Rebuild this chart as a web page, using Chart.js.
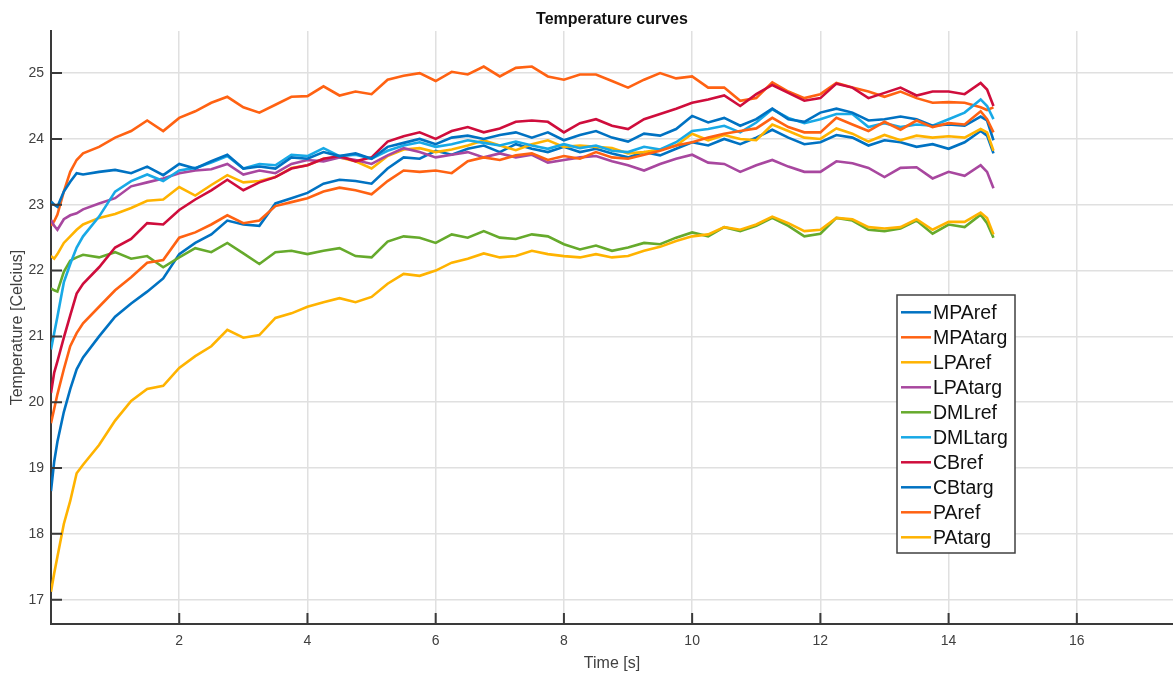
<!DOCTYPE html>
<html>
<head>
<meta charset="utf-8">
<title>Temperature curves</title>
<script src="https://cdn.jsdelivr.net/npm/chart.js@4.4.1/dist/chart.umd.min.js"></script>
<style>
  html, body { margin: 0; padding: 0; background: #fff; }
  canvas { display: block; }
</style>
</head>
<body>
<canvas id="tempChart" width="1173" height="676"></canvas>
<script>
// sample times shared by every probe (s)
const timeSec = [
  0, 0.05, 0.1, 0.2, 0.3, 0.4, 0.5, 0.75, 1, 1.25, 1.5, 1.75, 2,
  2.25, 2.5, 2.75, 3, 3.25, 3.5, 3.75, 4, 4.25, 4.5, 4.75, 5, 5.25,
  5.5, 5.75, 6, 6.25, 6.5, 6.75, 7, 7.25, 7.5, 7.75, 8, 8.25, 8.5,
  8.75, 9, 9.25, 9.5, 9.75, 10, 10.25, 10.5, 10.75, 11, 11.25, 11.5, 11.75,
  12, 12.25, 12.5, 12.75, 13, 13.25, 13.5, 13.75, 14, 14.25, 14.5, 14.6, 14.7
];

// temperatures in Celcius, one value per sample time
const mpaRef = [
  18.65, 19.1, 19.4, 19.85, 20.2, 20.5, 20.68, 21.0, 21.3, 21.5, 21.68, 21.88, 22.25,
  22.42, 22.55, 22.76, 22.7, 22.68, 23.02, 23.1, 23.18, 23.32, 23.38, 23.36, 23.32, 23.55,
  23.72, 23.7, 23.82, 23.76, 23.85, 23.9, 23.8, 23.92, 23.85, 23.8, 23.88, 23.8, 23.85,
  23.78, 23.72, 23.8, 23.75, 23.85, 23.95, 23.9, 24.0, 23.92, 24.02, 24.14, 24.02, 23.92,
  23.95, 24.06, 24.02, 23.9, 23.98, 23.95, 23.88, 23.92, 23.85, 23.95, 24.12, 24.05, 23.78
];
const mpaTarg = [
  22.68, 22.75, 22.85, 23.2, 23.5, 23.68, 23.78, 23.88, 24.02, 24.12, 24.28, 24.12, 24.32,
  24.42, 24.55, 24.64, 24.48, 24.4, 24.52, 24.64, 24.65, 24.8, 24.66, 24.72, 24.68, 24.9,
  24.96, 25.0, 24.88, 25.02, 24.98, 25.1, 24.95, 25.08, 25.1, 24.95, 24.9, 24.98, 24.98,
  24.88, 24.78, 24.9, 25.0, 24.92, 24.95, 24.78, 24.78, 24.58, 24.62, 24.86, 24.72, 24.62,
  24.68, 24.85, 24.78, 24.72, 24.64, 24.72, 24.62, 24.55, 24.56, 24.55, 24.48, 24.44, 24.48
];
const lpaRef = [
  22.22, 22.18, 22.25, 22.42, 22.52, 22.62, 22.7, 22.8, 22.86, 22.95, 23.06, 23.08, 23.27,
  23.14, 23.3, 23.45, 23.34, 23.36, 23.42, 23.56, 23.6, 23.7, 23.72, 23.66, 23.55, 23.74,
  23.84, 23.86, 23.8, 23.84, 23.9, 23.98, 23.9, 23.83, 23.92, 23.98, 23.88, 23.9, 23.88,
  23.86, 23.78, 23.8, 23.84, 23.9, 24.08, 23.98, 24.06, 24.0, 23.98, 24.22, 24.12, 24.02,
  24.0, 24.16, 24.08, 23.96, 24.06, 23.98, 24.05, 24.02, 24.04, 24.02, 24.15, 24.1, 23.82
];
const lpaTarg = [
  22.77, 22.68, 22.62, 22.78, 22.84, 22.87, 22.93, 23.02, 23.1, 23.28, 23.34, 23.4, 23.48,
  23.52, 23.54, 23.62, 23.46, 23.52, 23.48, 23.62, 23.68, 23.66, 23.72, 23.68, 23.62, 23.75,
  23.86, 23.8, 23.72, 23.76, 23.8, 23.72, 23.78, 23.72, 23.76, 23.64, 23.68, 23.72, 23.74,
  23.66, 23.6, 23.52, 23.62, 23.7, 23.76, 23.64, 23.62, 23.5, 23.6, 23.68, 23.58, 23.5,
  23.5, 23.66, 23.63, 23.56, 23.42, 23.56, 23.57, 23.4, 23.5, 23.44, 23.6, 23.5, 23.25
];
const dmlRef = [
  21.73, 21.7, 21.68, 21.98, 22.15, 22.2, 22.24, 22.2, 22.28, 22.18, 22.22, 22.05, 22.2,
  22.34, 22.28, 22.42, 22.26, 22.1, 22.28, 22.3, 22.25, 22.3, 22.34, 22.22, 22.2, 22.44,
  22.52, 22.5, 22.42, 22.55, 22.5, 22.6, 22.5, 22.48, 22.55, 22.52, 22.4, 22.32, 22.38,
  22.3, 22.35, 22.42, 22.4, 22.5, 22.58, 22.52, 22.66, 22.6, 22.68, 22.8, 22.68, 22.52,
  22.56, 22.8, 22.76, 22.62, 22.6, 22.64, 22.76, 22.56, 22.7, 22.66, 22.85, 22.72, 22.5
];
const dmlTarg = [
  20.8, 21.05, 21.3, 21.82, 22.1, 22.35, 22.52, 22.82, 23.2, 23.36, 23.46, 23.36, 23.52,
  23.56, 23.64, 23.74, 23.55, 23.62, 23.6, 23.76, 23.74, 23.86, 23.74, 23.76, 23.7, 23.82,
  23.9, 23.95, 23.88, 23.92, 23.98, 23.94, 23.9, 23.96, 23.9, 23.85, 23.92, 23.86, 23.9,
  23.82, 23.8, 23.88, 23.84, 23.95, 24.12, 24.15, 24.2, 24.1, 24.25, 24.45, 24.32, 24.24,
  24.3, 24.38, 24.38, 24.18, 24.24, 24.18, 24.22, 24.2, 24.3, 24.4, 24.6, 24.5, 24.3
];
const cbRef = [
  20.14, 20.45, 20.62, 20.98, 21.32, 21.65, 21.8, 22.05, 22.35, 22.48, 22.72, 22.7, 22.92,
  23.08, 23.22, 23.38, 23.22, 23.34, 23.42, 23.55, 23.6, 23.7, 23.74, 23.66, 23.72, 23.96,
  24.04, 24.1, 24.0, 24.12, 24.18, 24.1, 24.16, 24.26, 24.28, 24.26, 24.1, 24.24, 24.3,
  24.2, 24.15, 24.3, 24.38, 24.46, 24.55, 24.6, 24.66, 24.5, 24.68, 24.82, 24.7, 24.58,
  24.62, 24.84, 24.78, 24.62, 24.7, 24.78, 24.66, 24.72, 24.72, 24.68, 24.85, 24.75, 24.5
];
const cbTarg = [
  23.05, 23.0, 22.97, 23.2, 23.35, 23.48, 23.46, 23.5, 23.53, 23.48, 23.58, 23.45, 23.62,
  23.55, 23.66, 23.76, 23.55, 23.58, 23.55, 23.72, 23.7, 23.8, 23.74, 23.78, 23.7, 23.88,
  23.94, 24.0, 23.92, 24.02, 24.05, 24.0, 24.06, 24.1, 24.02, 24.1, 23.98, 24.06, 24.12,
  24.02, 23.96, 24.08, 24.05, 24.15, 24.35, 24.25, 24.32, 24.2, 24.3, 24.46, 24.3, 24.26,
  24.4, 24.46, 24.4, 24.28, 24.3, 24.34, 24.3, 24.2, 24.22, 24.2, 24.34, 24.28, 23.98
];
const paRef = [
  19.68, 19.9, 20.12, 20.5, 20.85, 21.05, 21.2, 21.45, 21.7, 21.9, 22.12, 22.16, 22.5,
  22.58, 22.7, 22.84, 22.72, 22.76, 22.98, 23.04, 23.1, 23.2, 23.26, 23.22, 23.16, 23.36,
  23.52, 23.5, 23.52, 23.48, 23.66, 23.72, 23.68, 23.75, 23.78, 23.68, 23.74, 23.7, 23.8,
  23.72, 23.7, 23.76, 23.82, 23.9, 23.95, 24.02, 24.08, 24.12, 24.16, 24.32, 24.18, 24.1,
  24.1, 24.32, 24.22, 24.12, 24.26, 24.14, 24.28, 24.18, 24.24, 24.22, 24.42, 24.3, 24.1
];
const paTarg = [
  17.12, 17.4, 17.65, 18.15, 18.5, 18.92, 19.05, 19.35, 19.72, 20.02, 20.2, 20.25, 20.52,
  20.7, 20.85, 21.1, 20.98, 21.02, 21.28, 21.35, 21.45, 21.52, 21.58, 21.52, 21.6, 21.8,
  21.95, 21.92, 22.0, 22.12, 22.18, 22.26, 22.2, 22.22, 22.3, 22.25, 22.22, 22.2, 22.25,
  22.2, 22.22, 22.3, 22.36, 22.45, 22.52, 22.55, 22.66, 22.62, 22.7, 22.82, 22.72, 22.6,
  22.62, 22.8, 22.78, 22.66, 22.64, 22.66, 22.78, 22.62, 22.74, 22.74, 22.88, 22.8, 22.55
];

const seriesNames = ['MPAref', 'MPAtarg', 'LPAref', 'LPAtarg', 'DMLref',
                     'DMLtarg', 'CBref', 'CBtarg', 'PAref', 'PAtarg'];
const seriesValues = [mpaRef, mpaTarg, lpaRef, lpaTarg, dmlRef,
                      dmlTarg, cbRef, cbTarg, paRef, paTarg];

const xTickValues = [2, 4, 6, 8, 10, 12, 14, 16];
const yTickValues = [17, 18, 19, 20, 21, 22, 23, 24, 25];

// default plot colour order (cycles after seven lines)
const palette = ['#0072c2', '#ff6212', '#ffb300', '#a8479f',
                 '#66aa2c', '#18a9e6', '#cf0d3c'];

const FONT = "'Liberation Sans', Arial, Helvetica, sans-serif";
Chart.defaults.font.family = FONT;

const datasets = seriesValues.map((vals, i) => ({
  label: seriesNames[i],
  data: vals.map((v, k) => ({ x: timeSec[k], y: v })),
  borderColor: palette[i % palette.length],
  backgroundColor: palette[i % palette.length],
  borderWidth: 2.6,
  pointRadius: 0,
  tension: 0,
  fill: false,
  // later lines are painted on top
  order: seriesValues.length - i
}));

// tick marks pointing into the plot box
const innerTicks = {
  id: 'innerTicks',
  afterDraw(chart) {
    const { ctx, chartArea: a, scales: { x, y } } = chart;
    ctx.save();
    ctx.strokeStyle = '#3a3a3a';
    ctx.lineWidth = 2;
    ctx.beginPath();
    x.ticks.forEach(t => {
      const px = x.getPixelForValue(t.value);
      ctx.moveTo(px, a.bottom);
      ctx.lineTo(px, a.bottom - 11);
    });
    y.ticks.forEach(t => {
      const py = y.getPixelForValue(t.value);
      ctx.moveTo(a.left, py);
      ctx.lineTo(a.left + 11, py);
    });
    ctx.stroke();
    ctx.restore();
  }
};

// boxed legend sitting inside the axes
const boxLegend = {
  id: 'boxLegend',
  afterDraw(chart) {
    const ctx = chart.ctx;
    const box = { left: 897, top: 295, width: 118, height: 258 };
    const firstRow = 312.3, rowStep = 25;
    ctx.save();
    ctx.fillStyle = '#fff';
    ctx.fillRect(box.left, box.top, box.width, box.height);
    ctx.strokeStyle = '#404040';
    ctx.lineWidth = 1.5;
    ctx.strokeRect(box.left, box.top, box.width, box.height);
    ctx.font = '19.5px ' + FONT;
    ctx.textBaseline = 'middle';
    ctx.textAlign = 'left';
    chart.data.datasets.forEach((ds, i) => {
      const y = firstRow + i * rowStep;
      ctx.strokeStyle = ds.borderColor;
      ctx.lineWidth = 2.5;
      ctx.beginPath();
      ctx.moveTo(box.left + 4, y);
      ctx.lineTo(box.left + 34, y);
      ctx.stroke();
      ctx.fillStyle = '#111';
      ctx.fillText(ds.label, box.left + 36, y + 1);
    });
    ctx.restore();
  }
};

new Chart(document.getElementById('tempChart'), {
  type: 'line',
  data: { datasets },
  options: {
    responsive: false,
    animation: false,
    devicePixelRatio: 1,
    layout: { padding: 0 },
    plugins: {
      legend: { display: false },
      tooltip: { enabled: false },
      title: {
        display: true,
        text: 'Temperature curves',
        color: '#111',
        fullSize: false,
        font: { family: FONT, size: 16, weight: 'bold' },
        padding: { top: 10.4, bottom: 1.4 }
      }
    },
    scales: {
      x: {
        type: 'linear',
        min: 0,
        max: 17.5,
        afterBuildTicks: s => { s.ticks = xTickValues.map(v => ({ value: v })); },
        afterFit: s => { s.height = 52; },
        grid: { color: '#e0e0e0', lineWidth: 1.5, drawTicks: false },
        border: { display: true, color: '#3a3a3a', width: 2 },
        ticks: { color: '#404040', font: { size: 14 }, padding: 9, maxRotation: 0 },
        title: {
          display: true, text: 'Time [s]', color: '#404040',
          font: { size: 16 }, padding: { top: 0, bottom: 2.4 }
        }
      },
      y: {
        type: 'linear',
        min: 16.63,
        max: 25.64,
        afterBuildTicks: s => { s.ticks = yTickValues.map(v => ({ value: v })); },
        afterFit: s => { s.width = 51; },
        grid: { color: '#e0e0e0', lineWidth: 1.5, drawTicks: false },
        border: { display: true, color: '#3a3a3a', width: 2 },
        ticks: { color: '#404040', font: { size: 14 }, padding: 7 },
        title: {
          display: true, text: 'Temperature [Celcius]', color: '#404040',
          font: { size: 16 }, padding: { top: 8, bottom: 0 }
        }
      }
    }
  },
  plugins: [innerTicks, boxLegend]
});
</script>
</body>
</html>
